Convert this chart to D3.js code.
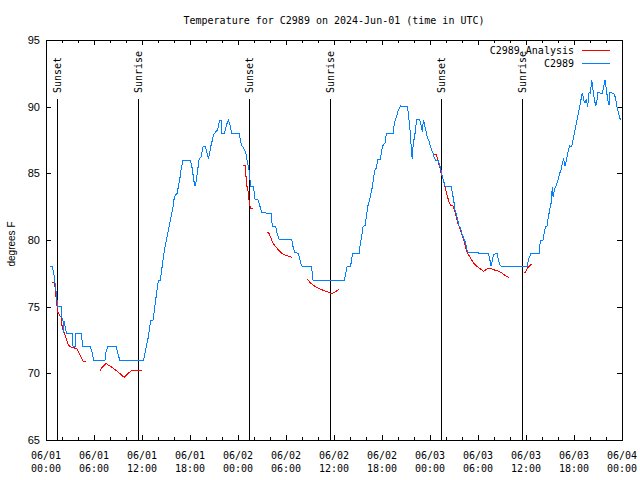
<!DOCTYPE html>
<html><head><meta charset="utf-8">
<script src="https://cdn.jsdelivr.net/npm/d3@7"></script>
<style>body{margin:0;background:#fff}</style>
</head><body><svg id="c" width="640" height="480"></svg>
<script>
const title = "Temperature for C2989 on 2024-Jun-01 (time in UTC)";
const yLabel = "degrees F";
const yTicks = [65, 70, 75, 80, 85, 90, 95];
const xMajorHours = [0, 6, 12, 18, 24, 30, 36, 42, 48, 54, 60, 66, 72];
const xTickDates = ["06/01","06/01","06/01","06/01","06/02","06/02","06/02","06/02","06/03","06/03","06/03","06/03","06/04"];
const xTickTimes = ["00:00","06:00","12:00","18:00","00:00","06:00","12:00","18:00","00:00","06:00","12:00","18:00","00:00"];
const sunsetHours = [1.4, 25.4, 49.4];
const sunriseHours = [11.5, 35.5, 59.5];
const seriesNames = ["C2989 Analysis", "C2989"];
const seriesColors = ["#ff0000", "#0080ff"];

// observed C2989: [hours since 06/01 00:00 UTC, degrees F]
const obsSeries = [
[0.46,78],[0.8,78],[0.88,77.75],[1.05,77.25],[1.13,76.75],[1.21,76.25],[1.3,76.1],[1.38,75.5],[1.46,75],[1.88,75],[1.96,74.25],[2.13,73.9],[2.15,73],[2.28,73.9],[2.4,73.5],[2.55,73],[3.3,73],[3.38,72],[3.63,72],[3.71,73],[4.46,73],[4.55,72],[5.55,72],[5.8,71.5],[5.96,71],[7.38,71],[7.46,71.5],[7.71,72],[8.8,72],[8.88,71.75],[9.21,71],[12.21,71],
[12.46,71.75],[12.63,72.25],[12.8,72.75],[12.96,73.5],[13.13,74],[13.38,74],[13.55,74.75],[13.71,75.5],[13.88,76.25],[14.05,77],[14.3,77],[14.46,77.75],[14.63,78.5],[14.8,79.25],[14.96,79.75],[15.13,80.25],[15.46,81.25],[15.71,82],[15.88,82.5],[16.05,83.25],[16.38,83.5],[16.55,84],[16.71,84.5],[16.88,85.25],[17.13,86],[18.05,86],[18.3,85.3],[18.46,84.5],[18.63,84.05],[18.8,84.5],[18.96,85.25],[19.13,86],[19.38,86.25],[19.63,87],[19.88,87],[20.05,86.75],[20.3,86.1],[20.46,86.55],[20.63,87.1],[20.8,87.5],[20.96,87.9],[21.13,88.05],[21.46,88.25],[21.71,89],[21.88,89],[21.96,88],[22.3,88],[22.63,88.75],[22.8,89],[23.05,88.5],[23.21,88],[24.13,88],[24.3,87.5],[24.46,87.1],[24.71,86.9],[24.96,86.6],[25.13,86],[25.38,85.25],[25.46,84.75],[25.55,84.25],[25.63,84],[25.88,84],[26.05,83.5],[26.13,83.05],[26.55,83],[26.71,82.6],[26.96,82.05],[28.13,82],[28.21,81.5],[28.3,81.05],[28.71,81],[28.88,80.5],[29.13,80.05],[30.71,80.05],[30.88,79.5],[31.13,79.05],[31.55,79],[31.71,78.6],[31.96,78.05],[33.13,78],[33.3,77.5],[33.38,77],[37.3,77],[37.46,77.5],[37.63,78],[38.05,78],[38.21,78.5],[38.3,79],[39.13,79],[39.3,79.75],[39.46,80.25],[39.63,81],[39.88,81.1],[40.05,81.75],[40.21,82.5],[40.46,83],[40.63,83.5],[40.8,84],[40.96,84.75],[41.13,85.25],[41.3,85.4],[41.46,86.05],[41.8,86.05],[41.96,86.75],[42.13,87.1],[42.38,87.3],[42.55,88],[43.38,88],[43.55,88.75],[43.8,89.25],[44.05,89.75],[44.3,90.05],[45.13,90],[45.3,89.5],[45.46,88.5],[45.55,88],[45.71,86.4],[45.8,86.05],[45.88,87],[46.05,87.75],[46.21,88.25],[46.3,89.05],[46.71,89],[46.88,88.6],[47.05,88.1],[47.13,88.75],[47.21,89],[47.38,88.5],[47.55,88],[47.71,87.6],[47.88,87.4],[48.05,87],[48.21,86.75],[48.38,86.5],[48.55,86.1],[48.71,86],[49.05,86],[49.21,85.6],[49.38,85.25],[49.55,84.75],[49.71,84.4],[49.88,84.05],[50.63,84],[50.8,83.5],[50.96,83],[51.13,82.25],[51.3,81.9],[51.46,81.5],[51.63,81.05],[51.8,80.95],[51.96,80.55],[52.13,80.25],[52.3,80],[52.46,79.75],[52.63,79.25],[52.8,79.05],[55.3,79],[55.46,78.6],[55.63,78.05],[55.8,78.5],[55.96,78.9],[56.21,79],[56.38,79],[56.55,78.5],[56.8,78.05],[60.13,78],[60.3,78.5],[60.46,78.75],[60.63,79],[61.63,79],[61.8,80],[62.13,80],[62.3,80.6],[62.46,81.05],[62.63,81.05],[62.8,81.75],[62.96,82.25],[63.13,82.75],[63.3,84],[63.38,83.25],[63.55,83.75],[63.71,84],[63.88,84.25],[64.05,84.6],[64.21,85],[64.38,85.25],[64.55,85.75],[64.71,86.05],[64.88,85.55],[65.05,86],[65.3,86.75],[65.46,87.05],[65.71,87],[65.88,87.5],[66.05,88],[66.21,88.5],[66.38,89],[66.55,89.5],[66.71,90],[66.88,90.55],[67.05,91.05],[67.21,90.5],[67.38,90.25],[67.55,90.55],[67.71,90],[67.88,91.05],[68.05,91],[68.21,92],[68.38,91.25],[68.55,90.55],[68.71,90.05],[68.88,90.5],[68.96,91.05],[69.55,91],[69.88,92],[70.05,91.25],[70.21,90.55],[70.38,90.1],[70.46,91.05],[70.96,91],[71.13,90.75],[71.3,90.25],[71.46,89.75],[71.63,89.4],[71.8,89]
];

// analysis segments (gaps between them)
const anaSeg1 = [[0.71,76.85],[1.05,76.85],[1.13,76.5],[1.21,76],[1.3,75.5],[1.46,74.6],[1.55,74.5],[1.71,74.4],[1.8,74.25],[1.88,74.2],[1.96,73.75],[2.05,73.4],[2.13,73.25],[2.3,73],[2.46,72.7],[2.63,72.4],[2.8,72.1],[3.05,72],[3.3,71.95],[3.55,71.95],[3.63,71.85],[3.8,71.85],[3.96,71.75],[4.13,71.5],[4.3,71.3],[4.46,71.1],[4.63,70.9],[4.96,70.9]];
const anaSeg2 = [[6.71,70.15],[6.96,70.4],[7.21,70.55],[7.55,70.75],[7.8,70.6],[8.13,70.5],[8.46,70.35],[8.8,70.2],[9.21,70],[9.46,69.85],[9.8,69.7],[10.13,69.9],[10.38,70.05],[10.71,70.2],[11.96,70.2]];
const anaSeg3 = [[24.63,85.6],[24.88,85.6],[24.96,85],[25.05,84.5],[25.13,84],[25.3,83.5],[25.38,83],[25.55,82.4],[25.88,82.4]];
const anaSeg4 = [[27.71,80.6],[27.88,80.5],[28.05,80.25],[28.21,80],[28.46,79.7],[28.71,79.5],[29.05,79.25],[29.38,79.05],[29.8,78.9],[30.21,78.8],[30.71,78.7]];
const anaSeg5 = [[32.63,77.05],[32.88,76.9],[33.21,76.7],[33.55,76.55],[33.88,76.45],[34.3,76.3],[34.8,76.2],[35.21,76.1],[35.55,76],[35.8,76],[36.13,76.1],[36.38,76.2],[36.63,76.3]];
const anaSeg6 = [[48.55,86.4],[48.8,86.4],[48.96,86],[49.21,85.5],[49.38,85],[49.71,84.4],[49.96,83.75],[50.13,83.4],[50.3,83],[50.55,82.6],[50.88,82.55],[51.05,82.25],[51.21,81.9],[51.38,81.5],[51.55,81.1],[51.71,80.95],[51.88,80.6],[52.05,80.25],[52.21,80],[52.38,79.6],[52.55,79.25],[52.71,79],[52.96,78.75],[53.21,78.5],[53.46,78.25],[53.8,78.05],[54.13,77.9],[54.46,77.75],[54.71,77.65],[55.05,77.8],[55.38,77.9],[55.71,77.85],[56.05,77.75],[56.38,77.7],[56.71,77.6],[57.05,77.5],[57.38,77.35],[57.63,77.25],[57.88,77.2]];
const anaSeg7 = [[59.8,77.5],[60.05,77.7],[60.21,77.9],[60.46,78.05],[60.71,78.2]];
const anaSegments = [anaSeg1, anaSeg2, anaSeg3, anaSeg4, anaSeg5, anaSeg6, anaSeg7];

const svg = d3.select("#c");
const L = 46, R = 622, T = 40, B = 440;
const x = d3.scaleLinear().domain([0, 72]).range([L, R]);
const y = d3.scaleLinear().domain([65, 95]).range([B, T]);
const mono = "'DejaVu Sans Mono', monospace";
const sans = "'Liberation Sans', Arial, sans-serif";

svg.append("rect").attr("width", 640).attr("height", 480).attr("fill", "#fff");

// title
svg.append("text").attr("x", (L + R) / 2).attr("y", 24).attr("text-anchor", "middle")
  .attr("font-family", mono).attr("font-size", 10).text(title);

// axes ticks (inward)
const minorH = d3.range(0, 73, 2);
function styleAxis(g) { g.select(".domain").remove(); g.selectAll("line").attr("stroke", "#000").attr("shape-rendering", "crispEdges"); g.selectAll("text").remove(); }
svg.append("g").attr("transform", `translate(0,${B})`).call(d3.axisBottom(x).tickValues(minorH).tickSizeInner(-3).tickSizeOuter(0)).call(styleAxis);
svg.append("g").attr("transform", `translate(0,${B})`).call(d3.axisBottom(x).tickValues(xMajorHours).tickSizeInner(-5).tickSizeOuter(0)).call(styleAxis);
svg.append("g").attr("transform", `translate(0,${T})`).call(d3.axisTop(x).tickValues(minorH).tickSizeInner(-3).tickSizeOuter(0)).call(styleAxis);
svg.append("g").attr("transform", `translate(0,${T})`).call(d3.axisTop(x).tickValues(xMajorHours).tickSizeInner(-5).tickSizeOuter(0)).call(styleAxis);
svg.append("g").attr("transform", `translate(${R},0)`).call(d3.axisRight(y).tickValues(yTicks).tickSizeInner(-5).tickSizeOuter(0)).call(styleAxis);

const gl = svg.append("g").attr("transform", `translate(${L},0)`)
  .call(d3.axisLeft(y).tickValues(yTicks).tickSizeInner(-5).tickSizeOuter(0).tickPadding(6));
gl.select(".domain").remove();
gl.selectAll("line").attr("stroke", "#000").attr("shape-rendering", "crispEdges");
gl.selectAll("text").attr("font-family", sans).attr("font-size", 11).attr("fill", "#000");

// x tick labels (two lines)
const xl = svg.append("g").attr("font-family", mono).attr("font-size", 10).attr("text-anchor", "middle");
xMajorHours.forEach((h, i) => {
  xl.append("text").attr("x", x(h)).attr("y", 459).text(xTickDates[i]);
  xl.append("text").attr("x", x(h)).attr("y", 472).text(xTickTimes[i]);
});

// y label
svg.append("text").attr("transform", "translate(15,244) rotate(-90)").attr("text-anchor", "middle")
  .attr("font-family", sans).attr("font-size", 10).text(yLabel);

// frame
svg.append("rect").attr("x", L).attr("y", T).attr("width", R - L).attr("height", B - T)
  .attr("fill", "none").attr("stroke", "#000").attr("shape-rendering", "crispEdges");

// sunrise / sunset lines
const events = sunsetHours.map(h => ({h, label: "Sunset"})).concat(sunriseHours.map(h => ({h, label: "Sunrise"})));
events.forEach(e => {
  const xx = Math.round(x(e.h)) + 0.5;
  svg.append("line").attr("x1", xx).attr("x2", xx).attr("y1", 99).attr("y2", B)
    .attr("stroke", "#000").attr("shape-rendering", "crispEdges");
  svg.append("text").attr("transform", `translate(${xx},93) rotate(-90)`).attr("dy", "0.35em")
    .attr("font-family", mono).attr("font-size", 10).text(e.label);
});

// series
const line = d3.line().x(d => x(d[0])).y(d => y(d[1]));
anaSegments.forEach(seg => {
  svg.append("path").attr("d", line(seg)).attr("fill", "none").attr("stroke", seriesColors[0])
    .attr("stroke-width", 1).attr("shape-rendering", "crispEdges");
});
svg.append("path").attr("d", line(obsSeries)).attr("fill", "none").attr("stroke", seriesColors[1])
  .attr("stroke-width", 1).attr("shape-rendering", "crispEdges");

// legend
seriesNames.forEach((n, i) => {
  const yy = 50 + i * 13;
  svg.append("text").attr("x", 574).attr("y", yy).attr("dy", "0.35em").attr("text-anchor", "end")
    .attr("font-family", mono).attr("font-size", 10).text(n);
  svg.append("line").attr("x1", 582).attr("x2", 610).attr("y1", yy + 0.5).attr("y2", yy + 0.5)
    .attr("stroke", seriesColors[i]).attr("shape-rendering", "crispEdges");
});
</script></body></html>
